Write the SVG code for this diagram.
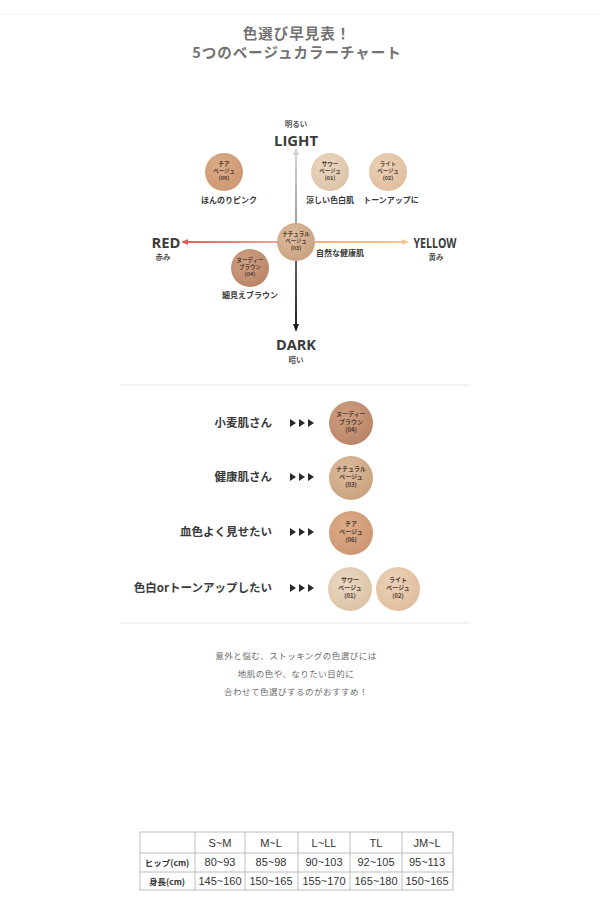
<svg xmlns="http://www.w3.org/2000/svg" width="600" height="911" viewBox="0 0 600 911">
<defs>
<style>
text{font-family:"Noto Sans CJK JP","Noto Sans",sans-serif;}
.title{font-size:14.5px;font-weight:700;fill:#727272;text-anchor:middle;letter-spacing:1px}
.axis{font-size:15px;font-weight:700;fill:#3c3c3c;text-anchor:middle;font-family:"Open Sans","Noto Sans",sans-serif}
.axsub{font-size:7.5px;font-weight:700;fill:#555;text-anchor:middle}
.lbl{font-size:8px;font-weight:700;fill:#3a3a3a;text-anchor:middle}
.ct{font-size:5.5px;font-weight:700;fill:#4e3b2e;text-anchor:middle}
.ctb{font-size:6px;font-weight:700;fill:#4e3b2e;text-anchor:middle}
.row{font-size:11.5px;font-weight:700;fill:#3a3a3a;text-anchor:end}
.tri{fill:#2a2a2a}
.para{font-size:8.5px;fill:#6a6a6a;text-anchor:middle;letter-spacing:0.5px}
.sep{stroke:#f3efea;stroke-width:1.5}
.tb{fill:none;stroke:#bdbdbd;stroke-width:1}
.th{font-size:11px;fill:#333;text-anchor:middle;font-family:"Liberation Sans",sans-serif}
.tl{font-size:8.5px;font-weight:700;fill:#333;text-anchor:middle}
</style>
<radialGradient id="g06" cx="0.4" cy="0.35" r="0.7"><stop offset="0" stop-color="#dcac88"/><stop offset="1" stop-color="#cc9673"/></radialGradient>
<radialGradient id="g01" cx="0.4" cy="0.35" r="0.7"><stop offset="0" stop-color="#ead8c3"/><stop offset="1" stop-color="#dcc2a5"/></radialGradient>
<radialGradient id="g02" cx="0.4" cy="0.35" r="0.7"><stop offset="0" stop-color="#ecd2b8"/><stop offset="1" stop-color="#dfbd9c"/></radialGradient>
<radialGradient id="g03" cx="0.4" cy="0.35" r="0.7"><stop offset="0" stop-color="#dcbc9e"/><stop offset="1" stop-color="#c9a27f"/></radialGradient>
<radialGradient id="g04" cx="0.4" cy="0.35" r="0.7"><stop offset="0" stop-color="#cfa083"/><stop offset="1" stop-color="#b98466"/></radialGradient>
<linearGradient id="gUp" gradientUnits="userSpaceOnUse" x1="0" y1="242" x2="0" y2="150"><stop offset="0" stop-color="#8f8f8f"/><stop offset="1" stop-color="#d6d6d6"/></linearGradient>
<linearGradient id="gDown" gradientUnits="userSpaceOnUse" x1="0" y1="242" x2="0" y2="330"><stop offset="0" stop-color="#777"/><stop offset="1" stop-color="#1e1e1e"/></linearGradient>
<linearGradient id="gLeft" gradientUnits="userSpaceOnUse" x1="296" y1="0" x2="182" y2="0"><stop offset="0" stop-color="#f2b0a4"/><stop offset="1" stop-color="#e0605a"/></linearGradient>
<linearGradient id="gRight" gradientUnits="userSpaceOnUse" x1="296" y1="0" x2="408" y2="0"><stop offset="0" stop-color="#f4a886"/><stop offset="1" stop-color="#f8c48e"/></linearGradient>
</defs>
<rect width="600" height="911" fill="#ffffff"/>

<line x1="0" y1="14" x2="600" y2="14" stroke="#f6f4f1" stroke-width="1"/>
<text class="title" x="297" y="39">色選び早見表！</text>
<text class="title" x="297" y="58">5つのベージュカラーチャート</text>

<g id="connectors">
<line x1="296" y1="242" x2="296" y2="154" stroke="url(#gUp)" stroke-width="2"/>
<path d="M296 148 L293 155 L299 155 Z" fill="#cfcfcf"/>
<line x1="296" y1="242" x2="296" y2="325" stroke="url(#gDown)" stroke-width="2"/>
<path d="M296 332 L293 324 L299 324 Z" fill="#1e1e1e"/>
<line x1="296" y1="242" x2="187" y2="242" stroke="url(#gLeft)" stroke-width="2"/>
<path d="M181 242 L188 239 L188 245 Z" fill="#e0605a"/>
<line x1="296" y1="242" x2="403" y2="242" stroke="url(#gRight)" stroke-width="2"/>
<path d="M409 242 L402 239 L402 245 Z" fill="#f8c48e"/>
</g>

<g id="axis-light"><text class="axsub" x="296" y="127">明るい</text><text class="axis" x="296" y="146" textLength="44" lengthAdjust="spacingAndGlyphs">LIGHT</text></g>
<g id="axis-dark"><text class="axis" x="296" y="350" textLength="40" lengthAdjust="spacingAndGlyphs">DARK</text><text class="axsub" x="296" y="363">暗い</text></g>
<g id="axis-red"><text class="axis" x="166" y="248" textLength="29" lengthAdjust="spacingAndGlyphs">RED</text><text class="axsub" x="163" y="260">赤み</text></g>
<g id="axis-yellow"><text class="axis" x="435" y="248" textLength="43" lengthAdjust="spacingAndGlyphs">YELLOW</text><text class="axsub" x="436" y="260">黄み</text></g>

<g id="c06"><circle cx="224" cy="172" r="19" fill="url(#g06)"/><text class="ct" x="224" y="166">チア</text><text class="ct" x="224" y="173">ベージュ</text><text class="ct" x="224" y="180">(06)</text><text class="lbl" x="229" y="203">ほんのりピンク</text></g>
<g id="c01"><circle cx="330" cy="172" r="19" fill="url(#g01)"/><text class="ct" x="330" y="166">サワー</text><text class="ct" x="330" y="173">ベージュ</text><text class="ct" x="330" y="180">(01)</text><text class="lbl" x="330" y="203">涼しい色白肌</text></g>
<g id="c02"><circle cx="388" cy="172" r="19" fill="url(#g02)"/><text class="ct" x="388" y="166">ライト</text><text class="ct" x="388" y="173">ベージュ</text><text class="ct" x="388" y="180">(02)</text><text class="lbl" x="391" y="203">トーンアップに</text></g>
<g id="c03"><circle cx="296" cy="242" r="19" fill="url(#g03)"/><text class="ct" x="296" y="236">ナチュラル</text><text class="ct" x="296" y="243">ベージュ</text><text class="ct" x="296" y="250">(03)</text><text class="lbl" x="340" y="256">自然な健康肌</text></g>
<g id="c04"><circle cx="250" cy="268" r="19" fill="url(#g04)"/><text class="ct" x="250" y="262">ヌーディー</text><text class="ct" x="250" y="269">ブラウン</text><text class="ct" x="250" y="276">(04)</text><text class="lbl" x="250" y="298">細見えブラウン</text></g>

<line class="sep" x1="120" y1="385" x2="470" y2="385"/>

<g id="row1"><text class="row" x="272" y="427">小麦肌さん</text><path class="tri" d="M290 419v8l6-4zM299 419v8l6-4zM308 419v8l6-4z"/>
<circle cx="351" cy="423" r="22" fill="url(#g04)"/><text class="ctb" x="351" y="416">ヌーディー</text><text class="ctb" x="351" y="424">ブラウン</text><text class="ctb" x="351" y="432">(04)</text></g>
<g id="row2"><text class="row" x="272" y="481">健康肌さん</text><path class="tri" d="M290 473v8l6-4zM299 473v8l6-4zM308 473v8l6-4z"/>
<circle cx="351" cy="478" r="22" fill="url(#g03)"/><text class="ctb" x="351" y="471">ナチュラル</text><text class="ctb" x="351" y="479">ベージュ</text><text class="ctb" x="351" y="487">(03)</text></g>
<g id="row3"><text class="row" x="272" y="536">血色よく見せたい</text><path class="tri" d="M290 528v8l6-4zM299 528v8l6-4zM308 528v8l6-4z"/>
<circle cx="351" cy="533" r="22" fill="url(#g06)"/><text class="ctb" x="351" y="526">チア</text><text class="ctb" x="351" y="534">ベージュ</text><text class="ctb" x="351" y="542">(06)</text></g>
<g id="row4"><text class="row" x="272" y="592">色白orトーンアップしたい</text><path class="tri" d="M290 584v8l6-4zM299 584v8l6-4zM308 584v8l6-4z"/>
<circle cx="350" cy="589" r="22" fill="url(#g01)"/><text class="ctb" x="350" y="582">サワー</text><text class="ctb" x="350" y="590">ベージュ</text><text class="ctb" x="350" y="598">(01)</text>
<circle cx="398" cy="589" r="22" fill="url(#g02)"/><text class="ctb" x="398" y="582">ライト</text><text class="ctb" x="398" y="590">ベージュ</text><text class="ctb" x="398" y="598">(02)</text></g>

<line class="sep" x1="120" y1="623" x2="470" y2="623"/>

<text class="para" x="296" y="659">意外と悩む、ストッキングの色選びには</text>
<text class="para" x="296" y="677">地肌の色や、なりたい目的に</text>
<text class="para" x="296" y="695">合わせて色選びするのがおすすめ！</text>

<g id="table">
<rect class="tb" x="140" y="832" width="313" height="58"/>
<line class="tb" x1="140" y1="853" x2="453" y2="853"/>
<line class="tb" x1="140" y1="872" x2="453" y2="872"/>
<line class="tb" x1="195" y1="832" x2="195" y2="890"/>
<line class="tb" x1="245" y1="832" x2="245" y2="890"/>
<line class="tb" x1="298" y1="832" x2="298" y2="890"/>
<line class="tb" x1="350" y1="832" x2="350" y2="890"/>
<line class="tb" x1="402" y1="832" x2="402" y2="890"/>
<text class="th" x="220" y="847">S~M</text><text class="th" x="271" y="847">M~L</text><text class="th" x="324" y="847">L~LL</text><text class="th" x="376" y="847">TL</text><text class="th" x="427" y="847">JM~L</text>
<text class="tl" x="167" y="866">ヒップ(cm)</text>
<text class="th" x="220" y="866">80~93</text><text class="th" x="271" y="866">85~98</text><text class="th" x="324" y="866">90~103</text><text class="th" x="376" y="866">92~105</text><text class="th" x="427" y="866">95~113</text>
<text class="tl" x="167" y="885">身長(cm)</text>
<text class="th" x="220" y="885">145~160</text><text class="th" x="271" y="885">150~165</text><text class="th" x="324" y="885">155~170</text><text class="th" x="376" y="885">165~180</text><text class="th" x="427" y="885">150~165</text>
</g>
</svg>
